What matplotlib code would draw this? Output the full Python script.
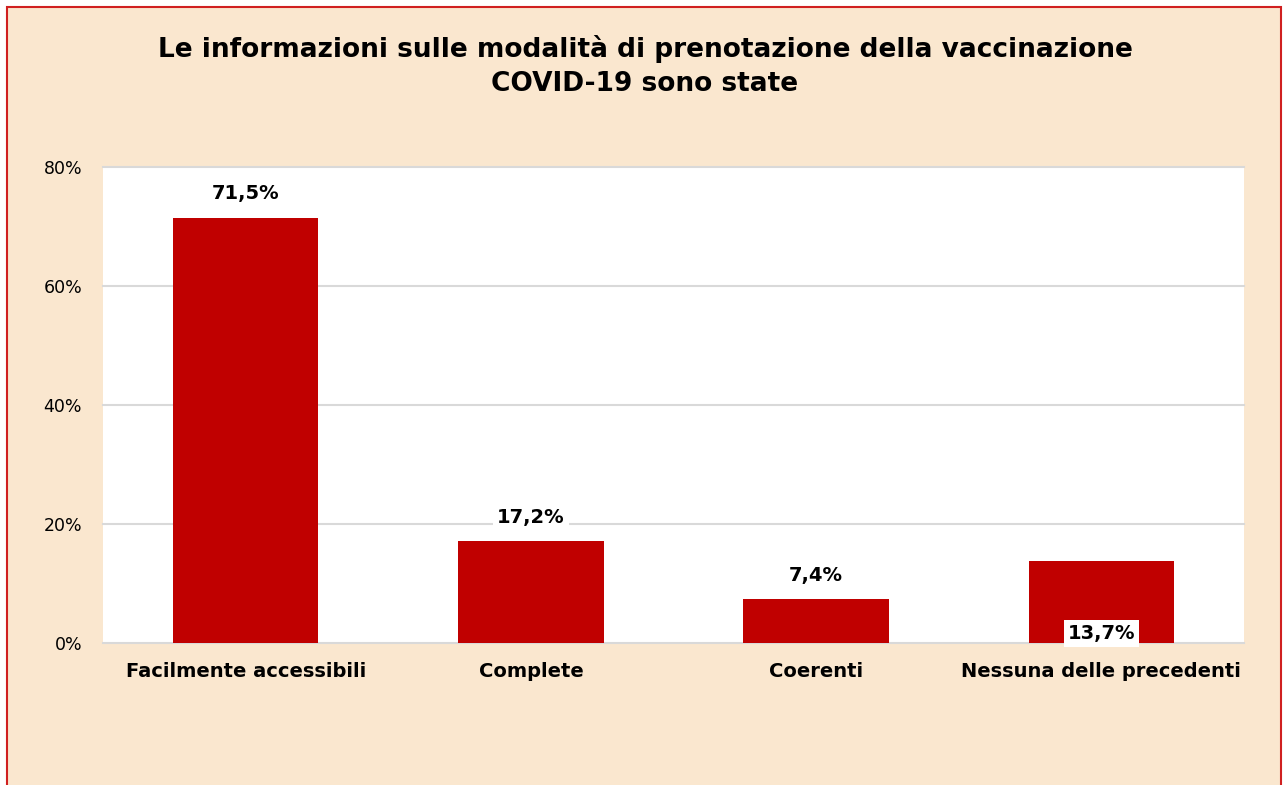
import matplotlib
matplotlib.use('Agg')
import matplotlib.pyplot as plt
from matplotlib.patches import Rectangle
from matplotlib.ticker import FuncFormatter

categorie = ['Facilmente accessibili', 'Complete', 'Coerenti', 'Nessuna delle precedenti']
valori = [71.5, 17.2, 7.4, 13.7]
etichette = ['71,5%', '17,2%', '7,4%', '13,7%']
titolo = 'Le informazioni sulle modalità di prenotazione della vaccinazione\nCOVID-19 sono state'

beige = '#FAE7CF'
rosso = '#C00000'

fig = plt.figure(figsize=(12.83, 7.85), dpi=100)
fig.patch.set_facecolor('white')
# sfondo beige con bordo rosso
fig.patches.append(Rectangle((7/1283, -0.05), 1274/1283, 1.05 - 7/785, transform=fig.transFigure,
                             facecolor=beige, edgecolor='#D02020', linewidth=1.5, zorder=-5))

ax = fig.add_axes([103/1283, 142/785, 1141/1283, 476/785])
ax.set_zorder(2)
ax.set_facecolor('white')
x = range(len(categorie))
ax.bar(x, valori, width=0.51, color=rosso, zorder=3)
ax.set_xlim(-0.5, 3.5)
ax.set_ylim(0, 80)
ax.set_yticks([0, 20, 40, 60, 80])
ax.yaxis.set_major_formatter(FuncFormatter(lambda v, p: f'{v:.0f}%'))
ax.grid(axis='y', color='#D9D9D9', linewidth=1.5, zorder=1)
for gl in ax.get_ygridlines():
    gl.set_clip_on(False)
ax.set_xticks(list(x))
ax.set_xticklabels(categorie, fontsize=14, fontweight='bold')
for s in ax.spines.values():
    s.set_visible(False)
ax.tick_params(axis='both', length=0)
ax.tick_params(axis='y', labelsize=12.5, pad=15)
ax.tick_params(axis='x', pad=14)

for i, (v, t) in enumerate(zip(valori, etichette)):
    if i == 3:
        ax.annotate(t, (i, 0), xytext=(0, 7), textcoords='offset points', ha='center', va='center',
                    fontsize=14, fontweight='bold', zorder=5,
                    bbox=dict(facecolor='white', edgecolor='none', pad=3))
    else:
        ax.annotate(t, (i, v), xytext=(0, 17), textcoords='offset points', ha='center', va='center',
                    fontsize=14, fontweight='bold', zorder=5,
                    bbox=dict(facecolor='white', edgecolor='none', pad=3))

fig.text(645/1283, 1 - 66/785, titolo, ha='center', va='center', fontsize=19, fontweight='bold',
         linespacing=1.4)

fig.savefig('out.png', dpi=100, facecolor=fig.get_facecolor())
